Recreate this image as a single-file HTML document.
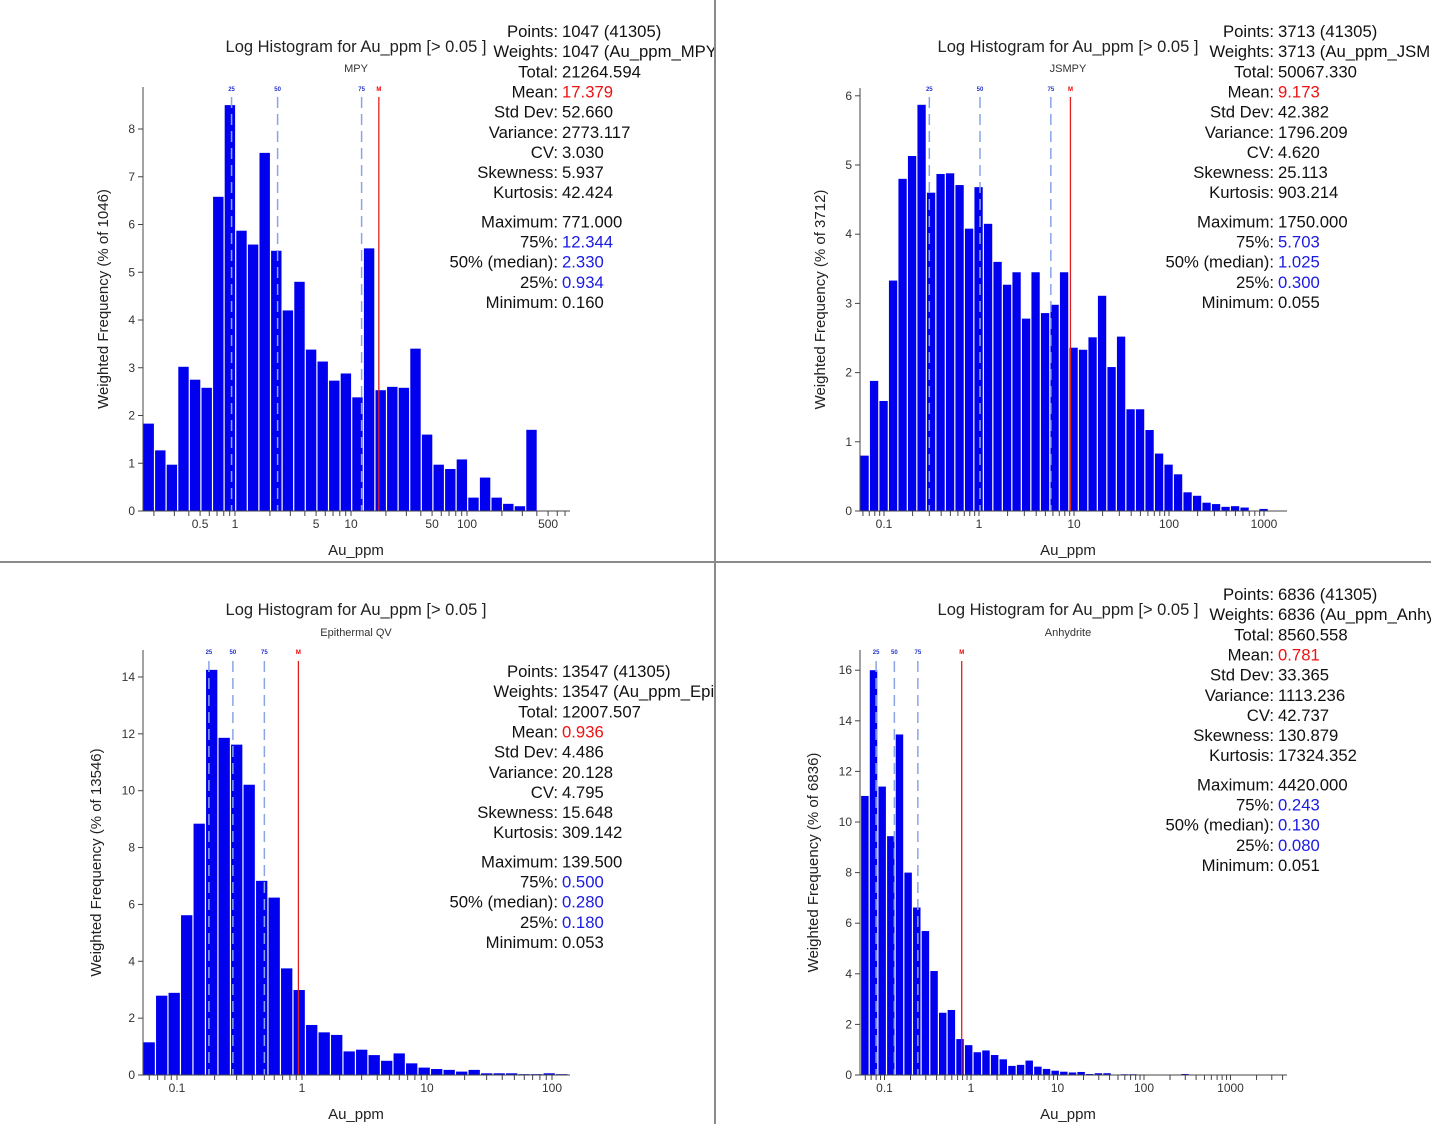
<!DOCTYPE html>
<html><head><meta charset="utf-8"><style>
html,body{margin:0;padding:0;background:#fff;}
svg{display:block;font-family:"Liberation Sans",sans-serif;}
</style></head><body>
<svg id="chart" width="1431" height="1124" viewBox="0 0 1431 1124" xmlns="http://www.w3.org/2000/svg">
<defs>
<clipPath id="c0"><rect x="0" y="0" width="714" height="561"/></clipPath>
<clipPath id="c1"><rect x="716" y="0" width="715" height="561"/></clipPath>
<clipPath id="c2"><rect x="0" y="563" width="714" height="561"/></clipPath>
<clipPath id="c3"><rect x="716" y="563" width="715" height="561"/></clipPath>
</defs>
<rect x="0" y="0" width="1431" height="1124" fill="#fff"/>
<line x1="715" y1="0" x2="715" y2="1124" stroke="#8a8a8a" stroke-width="2"/>
<line x1="0" y1="562" x2="1431" y2="562" stroke="#8a8a8a" stroke-width="2"/>
</svg>
<script>
// ---- data ----
const mpyValues = [1.83,1.27,0.97,3.02,2.75,2.58,6.58,8.5,5.87,5.58,7.5,5.45,4.2,4.8,3.38,3.13,2.73,2.88,2.38,5.5,2.53,2.6,2.58,3.4,1.6,0.97,0.88,1.08,0.28,0.7,0.28,0.15,0.1,1.7];
const jsmpyValues = [0.8,1.88,1.59,3.33,4.8,5.13,5.87,4.6,4.87,4.88,4.71,4.08,4.68,4.15,3.6,3.27,3.45,2.78,3.45,2.86,2.98,3.45,2.36,2.33,2.51,3.11,2.08,2.52,1.47,1.47,1.17,0.83,0.67,0.53,0.27,0.22,0.12,0.1,0.06,0.07,0.05,0,0.03];
const epiValues = [1.15,2.79,2.89,5.62,8.84,14.25,11.86,11.62,10.21,6.83,6.24,3.75,2.99,1.76,1.5,1.41,0.83,0.89,0.7,0.5,0.76,0.41,0.26,0.21,0.18,0.12,0.18,0.06,0.06,0.06,0.03,0.03,0.06,0.03];
const anhValues = [11.03,16.0,11.4,9.44,13.46,8.0,6.62,5.69,4.11,2.46,2.57,1.42,1.18,0.9,0.97,0.79,0.62,0.36,0.4,0.57,0.33,0.24,0.17,0.13,0.1,0.12,0.04,0.07,0.07,0,0.03,0.03,0,0,0,0,0,0.04];
const mpyQuantiles = [0.934,2.33,12.344,17.379];
const jsmpyQuantiles = [0.3,1.025,5.703,9.173];
const epiQuantiles = [0.18,0.28,0.5,0.936];
const anhQuantiles = [0.08,0.13,0.243,0.781];
const quantileLabels = ["25","50","75","M"];
const mpyXTicks = [0.5,1,5,10,50,100,500];
const jsmpyXTicks = [0.1,1,10,100,1000];
const epiXTicks = [0.1,1,10,100];
const anhXTicks = [0.1,1,10,100,1000];
const mpyYTicks = [0,1,2,3,4,5,6,7,8];
const jsmpyYTicks = [0,1,2,3,4,5,6];
const epiYTicks = [0,2,4,6,8,10,12,14];
const anhYTicks = [0,2,4,6,8,10,12,14,16];
const statLabels = ["Points:","Weights:","Total:","Mean:","Std Dev:","Variance:","CV:","Skewness:","Kurtosis:","Maximum:","75%:","50% (median):","25%:","Minimum:"];
const mpyStats = ["1047 (41305)","1047 (Au_ppm_MPY)","21264.594","17.379","52.660","2773.117","3.030","5.937","42.424","771.000","12.344","2.330","0.934","0.160"];
const jsmpyStats = ["3713 (41305)","3713 (Au_ppm_JSMPY)","50067.330","9.173","42.382","1796.209","4.620","25.113","903.214","1750.000","5.703","1.025","0.300","0.055"];
const epiStats = ["13547 (41305)","13547 (Au_ppm_Epithermal)","12007.507","0.936","4.486","20.128","4.795","15.648","309.142","139.500","0.500","0.280","0.180","0.053"];
const anhStats = ["6836 (41305)","6836 (Au_ppm_Anhydrite)","8560.558","0.781","33.365","1113.236","42.737","130.879","17324.352","4420.000","0.243","0.130","0.080","0.051"];

const NS="http://www.w3.org/2000/svg";
const svg=document.getElementById('chart');
function mk(tag,attrs,parent){const e=document.createElementNS(NS,tag);for(const k in attrs)e.setAttribute(k,attrs[k]);(parent||svg).appendChild(e);return e;}

const panels=[
 {key:'mpy',sub:'MPY',n:'1046',vals:mpyValues,q:mpyQuantiles,xt:mpyXTicks,yt:mpyYTicks,stats:mpyStats,
  ax:143,y0:511,ys:47.75,one:235,dec:116,start:Math.log10(0.161),xend:570,top:87,cx:356,titleY:52,subY:72,statX:558,statY:37,qlY:91,qlTop:97,xtitleY:555,ytitleX:108,clip:'c0',minor:[0.1,1000]},
 {key:'jsmpy',sub:'JSMPY',n:'3712',vals:jsmpyValues,q:jsmpyQuantiles,xt:jsmpyXTicks,yt:jsmpyYTicks,stats:jsmpyStats,
  ax:860,y0:511,ys:69.2,one:979,dec:95,start:Math.log10(0.0558),xend:1287,top:88,cx:1068,titleY:52,subY:72,statX:1274,statY:37,qlY:91,qlTop:97,xtitleY:555,ytitleX:825,clip:'c1',minor:[0.01,2000]},
 {key:'epi',sub:'Epithermal QV',n:'13546',vals:epiValues,q:epiQuantiles,xt:epiXTicks,yt:epiYTicks,stats:epiStats,
  ax:143,y0:1075,ys:28.43,one:302,dec:125,start:Math.log10(0.0535),xend:570,top:650,cx:356,titleY:615,subY:636,statX:558,statY:677,qlY:654,qlTop:661,xtitleY:1119,ytitleX:101,clip:'c2',minor:[0.01,200]},
 {key:'anh',sub:'Anhydrite',n:'6836',vals:anhValues,q:anhQuantiles,xt:anhXTicks,yt:anhYTicks,stats:anhStats,
  ax:860,y0:1075,ys:25.3,one:971,dec:86.5,start:Math.log10(0.053),xend:1287,top:650,cx:1068,titleY:615,subY:636,statX:1274,statY:600,qlY:654,qlTop:661,xtitleY:1119,ytitleX:818,clip:'c3',minor:[0.01,5000]}
];

panels.forEach(p=>{
 const g=mk('g',{'clip-path':'url(#'+p.clip+')'});
 
 
 const X=v=>p.one+p.dec*Math.log10(v);
 const Y=v=>p.y0-p.ys*v;
 const t=mk('text',{x:p.cx,y:p.titleY,'text-anchor':'middle','font-size':'16.5',fill:'#222'},g);
 t.textContent='Log Histogram for Au_ppm [> 0.05 ]';
 
 
 const st=mk('text',{x:p.cx,y:p.subY,'text-anchor':'middle','font-size':'11',fill:'#333'},g);
 st.textContent=p.sub;
 
 
 const bw=0.1;
 p.vals.forEach((v,i)=>{
  if(v<=0)return;
  const l=p.one+p.dec*(p.start+i*bw), r=p.one+p.dec*(p.start+(i+1)*bw);
  const b=mk('rect',{x:l+0.5,y:Y(v),width:Math.max(r-l-1.2,0.5),height:p.y0-Y(v),fill:'#0000ee'},g);
  
  
 });
 p.q.forEach((v,i)=>{
  const x=X(v), isM=i===3;
  const ln=mk('line',{x1:x,y1:p.qlTop,x2:x,y2:p.y0,stroke:isM?'#e02020':'#8aa4e6','stroke-width':isM?1.3:1.5,'stroke-dasharray':isM?'none':'11,6'},g);
  
  
  const lt=mk('text',{x:x,y:p.qlY,'text-anchor':'middle','font-size':'6','font-weight':'bold',fill:isM?'#e00':'#2233cc'},g);
  lt.textContent=quantileLabels[i];
  
  
 });
 const ya=mk('line',{x1:p.ax,y1:p.top,x2:p.ax,y2:p.y0,stroke:'#444','stroke-width':1},g);
 
 
 const xa=mk('line',{x1:p.ax,y1:p.y0,x2:p.xend,y2:p.y0,stroke:'#444','stroke-width':1},g);
 
 
 p.yt.forEach(v=>{
  mk('line',{x1:p.ax-5,y1:Y(v),x2:p.ax,y2:Y(v),stroke:'#444'},g);
  const tl=mk('text',{x:p.ax-8,y:Y(v)+4,'text-anchor':'end','font-size':'12',fill:'#333'},g);
  tl.textContent=String(v);
  
  
 });
 for(let d=p.minor[0];d<p.minor[1];d*=10){
  for(let k=1;k<10;k++){
   const v=d*k, x=X(v);
   if(x<p.ax+2||x>p.xend)continue;
   mk('line',{x1:x,y1:p.y0,x2:x,y2:p.y0+5,stroke:'#444'},g);
  }
 }
 p.xt.forEach(v=>{
  const tl=mk('text',{x:X(v),y:p.y0+17,'text-anchor':'middle','font-size':'12',fill:'#333'},g);
  tl.textContent=String(v);
  
  
 });
 const xt=mk('text',{x:p.cx,y:p.xtitleY,'text-anchor':'middle','font-size':'15',fill:'#222'},g);
 xt.textContent='Au_ppm';
 
 
 const cy=(p.top+p.y0)/2;
 const yt=mk('text',{x:p.ytitleX,y:cy,'text-anchor':'middle','font-size':'15',fill:'#222',transform:'rotate(-90 '+p.ytitleX+' '+cy+')'},g);
 yt.textContent='Weighted Frequency (% of '+p.n+')';
 
 
 statLabels.forEach((lab,i)=>{
  const yy=p.statY+i*20.15+(i>=9?9:0);
  const a=mk('text',{x:p.statX,y:yy,'text-anchor':'end','font-size':'16.7',fill:'#111'},g);
  a.textContent=lab;
  
  
  const col=i===3?'#ee1111':(i>=10&&i<=12?'#1a1ae0':'#111');
  const b=mk('text',{x:p.statX+4,y:yy,'font-size':'16.7',fill:col},g);
  b.textContent=p.stats[i];
  
  
 });
});
</script>
</body></html>
